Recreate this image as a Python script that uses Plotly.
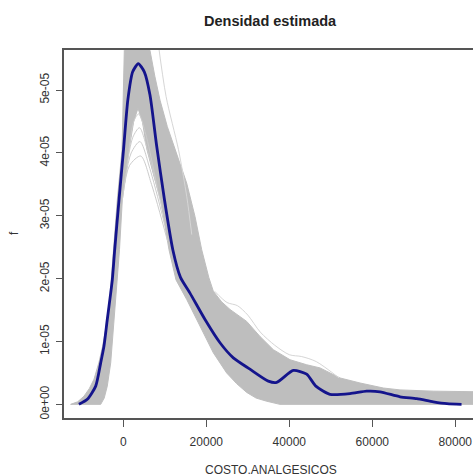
import plotly.graph_objects as go

SCALE = 1e-5  # density values below are stored in units of 1e-05

# Kernel density estimate of COSTO.ANALGESICOS (dark blue curve)
dens_x = [-10700, -8670, -6650, -5450, -4650, -3860, -3040, -2650, -2070, -1040,
          48, 1085, 2260, 3610, 5060, 6430, 8000, 9930, 11930, 13780, 16070,
          19690, 23300, 26510, 30520, 34940, 36960, 40960, 44190, 46400, 49800,
          54630, 58650, 61860, 66680, 70700, 74700, 78000, 81500]
dens_y = [0.00, 0.08, 0.29, 0.66, 0.93, 1.35, 1.77, 1.98, 2.46, 3.25,
          4.05, 4.84, 5.29, 5.42, 5.29, 4.92, 4.13, 3.25, 2.46, 2.02, 1.77,
          1.35, 0.98, 0.74, 0.56, 0.37, 0.35, 0.54, 0.48, 0.29, 0.16,
          0.17, 0.21, 0.20, 0.12, 0.09, 0.04, 0.01, 0.00]

# Bootstrap density band: upper envelope
band_hi_x = [-12700, -11000, -9470, -8200, -7060, -5860, -5000, -4250, -3200,
             -2410, -1450, -310, -70, 240, 1500, 3300, 5000, 6430, 7600, 8840,
             10600, 12500, 15270, 17270, 18890, 20600, 21690, 23700, 25710,
             29730, 32940, 36150, 40170, 44190, 47400, 52220, 57040, 62650,
             66680, 74700, 82740, 86000]
band_hi_y = [0.00, 0.04, 0.13, 0.25, 0.40, 0.67, 0.92, 1.19, 1.72,
             2.46, 3.25, 4.05, 4.84, 5.63, 5.95, 6.05, 5.95, 5.63, 5.22, 4.84,
             4.42, 4.05, 3.52, 2.99, 2.46, 2.02, 1.80, 1.63, 1.51,
             1.32, 1.08, 0.87, 0.71, 0.63, 0.58, 0.42, 0.34, 0.26,
             0.23, 0.21, 0.21, 0.20]

# Bootstrap density band: inner (lower) edge of the dense region
band_lo_x = [-12700, -5450, -4600, -3860, -3040, -2400, -1830, -1450, -920,
             -240, 1370, 2500, 3540, 4600, 5710, 7300, 9010, 11010, 12700,
             15270, 18480, 21690, 24900, 27300, 29730, 32000, 34550, 37760,
             86000]
band_lo_y = [0.00, 0.00, 0.10, 0.29, 0.66, 1.19, 1.72, 1.98, 2.46,
             3.25, 4.05, 4.50, 4.71, 4.50, 4.05, 3.65, 3.25, 2.46, 1.98,
             1.67, 1.24, 0.82, 0.50, 0.33, 0.19, 0.10, 0.05, 0.00,
             0.00]

# Individual bootstrap replicates with lower peaks
rep_x = [
    [1370, 2500, 3700, 5400, 8200],
    [870, 2300, 3900, 6000, 9400],
    [260, 1900, 4000, 6400, 10000],
    [-240, 1500, 4200, 6800, 10650],
]
rep_y = [
    [4.05, 4.50, 4.62, 4.30, 3.45],
    [3.80, 4.25, 4.40, 4.00, 3.10],
    [3.50, 4.00, 4.18, 3.75, 2.85],
    [3.25, 3.80, 3.95, 3.50, 2.60],
]

# Replicates lying just outside the dense band
out_x = [
    [8300, 10300, 13300, 15300, 16500],
    [22000, 25000, 27500, 30000, 33000, 36500, 40000, 43000, 46500, 52000],
]
out_y = [
    [5.80, 4.90, 4.05, 3.30, 2.70],
    [1.80, 1.62, 1.57, 1.42, 1.15, 0.94, 0.79, 0.76, 0.68, 0.42],
]

x_ticks = [0, 20000, 40000, 60000, 80000]
y_ticks = [0, 1, 2, 3, 4, 5]
y_tick_text = ["0e+00", "1e-05", "2e-05", "3e-05", "4e-05", "5e-05"]

GREY = "#bebebe"
FONT = "Liberation Sans, Arial, sans-serif"


def s(vals):
    return [v * SCALE for v in vals]


fig = go.Figure()

fig.add_trace(go.Scatter(
    x=band_lo_x, y=s(band_lo_y), mode="lines",
    line=dict(color=GREY, width=1),
    hoverinfo="skip", showlegend=False))
fig.add_trace(go.Scatter(
    x=band_hi_x, y=s(band_hi_y), mode="lines", fill="tonexty",
    fillcolor=GREY, line=dict(color=GREY, width=1),
    hoverinfo="skip", showlegend=False))

for xs, ys in zip(rep_x, rep_y):
    fig.add_trace(go.Scatter(
        x=xs, y=s(ys), mode="lines",
        line=dict(color="#cccccc", width=1, shape="spline", smoothing=0.8),
        hoverinfo="skip", showlegend=False))

for xs, ys in zip(out_x, out_y):
    fig.add_trace(go.Scatter(
        x=xs, y=s(ys), mode="lines",
        line=dict(color="#d6d6d6", width=1, shape="spline", smoothing=0.8),
        hoverinfo="skip", showlegend=False))

fig.add_trace(go.Scatter(
    x=dens_x, y=s(dens_y), mode="lines",
    line=dict(color="#14148c", width=2.8, shape="spline", smoothing=0.6),
    showlegend=False))

axis_common = dict(
    showgrid=False, zeroline=False, showline=True, linecolor="#555555",
    linewidth=1.5, ticks="outside", tickcolor="#555555", tickwidth=1.2,
    tickfont=dict(family=FONT, size=12, color="#333333"),
)

fig.update_xaxes(
    range=[-14290, 84265], tickvals=x_ticks,
    ticktext=[str(v) for v in x_ticks], ticklen=7, mirror=True,
    ticklabelstandoff=5, **axis_common)
fig.update_yaxes(
    range=[-0.217 * SCALE, 5.637 * SCALE], tickvals=s(y_ticks),
    ticktext=y_tick_text, tickangle=-90, ticklen=6, mirror=False,
    ticklabelstandoff=2, **axis_common)

fig.update_layout(
    width=473, height=476,
    margin=dict(l=64, r=0, t=50, b=58),
    plot_bgcolor="white", paper_bgcolor="white",
    showlegend=False,
    annotations=[
        dict(text="<b>Densidad estimada</b>", xref="paper", yref="paper",
             x=0.505, y=1.0788, xanchor="center", yanchor="middle",
             showarrow=False,
             font=dict(family=FONT, size=14.5, color="#222222")),
        dict(text="COSTO.ANALGESICOS", xref="paper", yref="paper",
             x=0.505, y=-0.1413, xanchor="center", yanchor="middle",
             showarrow=False, font=dict(family=FONT, size=12, color="#333333")),
        dict(text="f", xref="paper", yref="paper",
             x=-0.1222, y=0.503, xanchor="center", yanchor="middle",
             textangle=-90, showarrow=False,
             font=dict(family=FONT, size=12, color="#333333")),
    ],
)

fig.write_html("out.html")
